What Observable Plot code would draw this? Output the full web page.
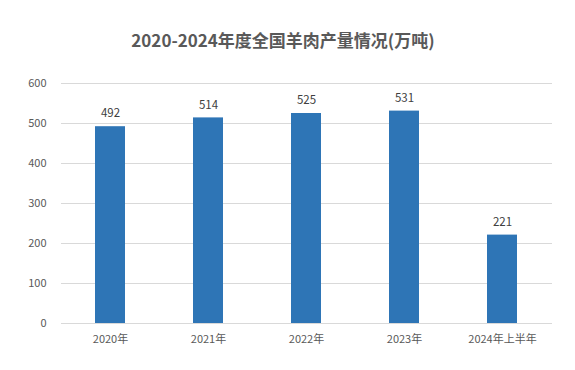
<!DOCTYPE html>
<html>
<head>
<meta charset="utf-8">
<script src="https://cdn.jsdelivr.net/npm/d3@7"></script>
<script src="https://cdn.jsdelivr.net/npm/@observablehq/plot@0.6"></script>
<style>
  html, body { margin: 0; padding: 0; background: #fff; }
  #title { height: 31px; padding-top: 29px; line-height: 22px; text-align: center; font-family: "Noto Sans CJK SC", "Noto Sans", sans-serif; font-weight: bold; font-size: 17px; color: #595959; width: 566px; }
  #chart { width: 575px; }
</style>
</head>
<body>
<div id="title">2020-2024年度全国羊肉产量情况(万吨)</div>
<div id="chart"></div>
<script>
const categories = ["2020年", "2021年", "2022年", "2023年", "2024年上半年"];
const values = [492, 514, 525, 531, 221];
const yTicks = [0, 100, 200, 300, 400, 500, 600];

const data = categories.map((c, i) => ({category: c, value: values[i]}));
const font = "'Noto Sans CJK SC', 'Noto Sans', sans-serif";

const plot = Plot.plot({
  width: 575,
  height: 310,
  marginTop: 23,
  marginBottom: 47,
  marginLeft: 61,
  marginRight: 23,
  style: {fontFamily: font, fontSize: "11px", color: "#595959", background: "#fff"},
  x: {domain: categories, paddingInner: 0.69, paddingOuter: 0.345, label: null},
  y: {domain: [0, 600], ticks: yTicks, label: null},
  marks: [
    Plot.gridY(yTicks, {stroke: "#d9d9d9", strokeOpacity: 1}),
    Plot.barY(data, {x: "category", y: "value", fill: "#2e75b6"}),
    Plot.ruleY([0], {stroke: "#d9d9d9"}),
    Plot.text(data, {x: "category", y: "value", text: d => String(d.value), dy: -13, fill: "#404040", fontSize: 11.5}),
    Plot.axisY(yTicks, {tickSize: 0, tickPadding: 15, fill: "#595959", fontSize: 11, label: null}),
    Plot.axisX({tickSize: 0, tickPadding: 12, fill: "#595959", fontSize: 11, label: null})
  ]
});
document.getElementById("chart").appendChild(plot);
</script>
</body>
</html>
